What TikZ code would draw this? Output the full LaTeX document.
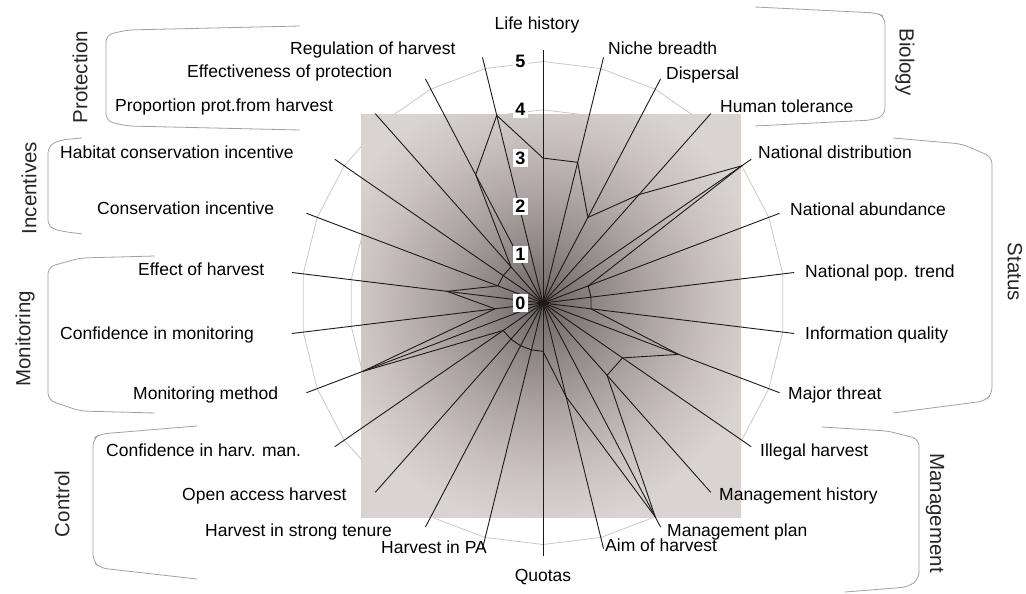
\documentclass[tikz,border=0pt]{standalone}
\usepackage{fontspec}
\setmainfont{Liberation Sans}
\usetikzlibrary{calc}
\definecolor{g0}{RGB}{88,80,79}
\definecolor{g1}{RGB}{120,112,111}
\definecolor{g2}{RGB}{146,138,136}
\definecolor{g3}{RGB}{174,166,164}
\definecolor{g4}{RGB}{201,194,192}
\definecolor{g5}{RGB}{217,211,209}
\definecolor{ringcol}{RGB}{200,200,200}
\definecolor{brkcol}{RGB}{160,160,160}
\definecolor{inkcol}{RGB}{26,26,26}
\pgfdeclareradialshading{chartglow}{\pgfpoint{0bp}{0bp}}{color(0bp)=(g0); color(1.6bp)=(g1); color(5bp)=(g2); color(9.2bp)=(g3); color(14.2bp)=(g4); color(18.5bp)=(g5); color(25bp)=(g5); color(50bp)=(g5)}
\begin{document}
\begin{tikzpicture}[x=1pt,y=-1pt,
  ring/.style={draw=ringcol,line width=0.8pt},
  spoke/.style={draw=inkcol,line width=0.9pt},
  dataline/.style={draw=inkcol,line width=0.9pt,line join=miter},
  brk/.style={draw=brkcol,line width=0.8pt,rounded corners=7pt},
  lab/.style={font=\fontsize{17.5}{20}\selectfont,inner sep=0pt,anchor=west,text height=12.5pt,text depth=3.5pt},
  grp/.style={font=\fontsize{20.5}{23}\selectfont,inner sep=0pt,text=black!85},
  numlab/.style={font=\bfseries\fontsize{18}{20}\selectfont,fill=white,inner xsep=2pt,inner ysep=2.5pt}]
\useasboundingbox (0,0) rectangle (1026,594);
\coordinate (c) at (543,303);
% grid rings
\foreach \k in {1,...,5}{
  \draw[ring] plot[samples at={0,...,25},variable=\t] ({543+48.3*\k*sin(\t*360/26)},{303-48.3*\k*cos(\t*360/26)}) -- cycle;
}
% shaded plot area
\begin{scope}
  \clip (361,114) rectangle (741,517);
  \fill[g5] (361,114) rectangle (741,517);
  \shade[shading=chartglow] (543,303) circle (300);
\end{scope}
% spokes
\foreach \i in {0,...,25}{
  \coordinate (s\i) at ({543+253*sin(\i*360/26)},{303-253*cos(\i*360/26)});
  \draw[spoke] (c) -- (s\i);
}
% data vertices
\foreach \i/\v in {0/3,1/3,2/2,3/3,4/5,5/1,6/1,7/1,8/3,9/2,10/2,11/5,12/2,13/1,14/1,15/1,16/1,17/1,18/4,19/1,20/2,21/1,22/1,23/1,24/3,25/4}{
  \coordinate (d\i) at ({543+48.3*\v*sin(\i*360/26)},{303-48.3*\v*cos(\i*360/26)});
}
\draw[dataline] (d0) -- (d1) -- (d2) -- (d3) -- (d4) -- (d5) -- (d6) -- (d7) -- (d8) -- (d9) -- (d10) -- (d11) -- (d12) -- (d13) -- (d14) -- (d15) -- (d16) -- (d17) -- (d18) -- (d19) -- (d20) -- (d21) -- (d22) -- (d23) -- (d24) -- (d25) -- cycle;
% scale numbers
\foreach \k in {0,...,5}{
  \node[numlab] (n\k) at (520.5,{303-48.3*\k}) {\k};
}
% axis labels
\node[lab,anchor=center] (l0) at (537,25) {Life history};
\node[lab] (l1) at (608,50) {Niche breadth};
\node[lab] (l2) at (666,75) {Dispersal};
\node[lab] (l3) at (720,108) {Human tolerance};
\node[lab] (l4) at (758,154) {National distribution};
\node[lab] (l5) at (790,211) {National abundance};
\node[lab] (l6) at (805,273) {National pop. trend};
\node[lab] (l7) at (805,335) {Information quality};
\node[lab] (l8) at (788,395) {Major threat};
\node[lab] (l9) at (760,452) {Illegal harvest};
\node[lab] (l10) at (719,496) {Management history};
\node[lab] (l11) at (667,532) {Management plan};
\node[lab] (l12) at (605,547) {Aim of harvest};
\node[lab,anchor=center] (l13) at (543,577) {Quotas};
\node[lab] (l14) at (381,549) {Harvest in PA};
\node[lab] (l15) at (205,532) {Harvest in strong tenure};
\node[lab] (l16) at (182,496) {Open access harvest};
\node[lab] (l17) at (106,452) {Confidence in harv. man.};
\node[lab] (l18) at (133,395) {Monitoring method};
\node[lab] (l19) at (60,335) {Confidence in monitoring};
\node[lab] (l20) at (138,271) {Effect of harvest};
\node[lab] (l21) at (97,210) {Conservation incentive};
\node[lab] (l22) at (60,154) {Habitat conservation incentive};
\node[lab] (l23) at (115,107) {Proportion prot.from harvest};
\node[lab] (l24) at (187,73) {Effectiveness of protection};
\node[lab] (l25) at (290,50) {Regulation of harvest};
% group brackets
\draw[brk] (300,26) -- (127,30) -- (106,35) -- (106,121) -- (127,126) -- (300,130);
\draw[brk] (82,138) -- (60,140) -- (48,146) -- (48,227) -- (60,231) -- (82,234);
\draw[brk] (155,256) -- (80,258) -- (48,267) -- (48,400) -- (80,411) -- (155,413);
\draw[brk] (197,426) -- (100,434) -- (93,439) -- (93,561) -- (100,568) -- (197,579);
\draw[brk] (755,7) -- (877,13) -- (885,17) -- (885,115) -- (873,120) -- (755,126);
\draw[brk] (893,138) -- (962,144) -- (992,157) -- (992,394) -- (985,401) -- (893,413);
\draw[brk] (822,427) -- (888,431) -- (919,439) -- (919,579) -- (908,587) -- (845,592);
% group labels
\node[grp,rotate=90] (gProt) at (80,77) {Protection};
\node[grp,rotate=90] (gInc) at (29,188) {Incentives};
\node[grp,rotate=90] (gMon) at (25,339) {Monitoring};
\node[grp,rotate=90] (gCon) at (62,504) {Control};
\node[grp,rotate=-90] (gBio) at (905,62) {Biology};
\node[grp,rotate=-90] (gSta) at (1015,272) {Status};
\node[grp,rotate=-90] (gMan) at (935,513) {Management};
\end{tikzpicture}
\end{document}
